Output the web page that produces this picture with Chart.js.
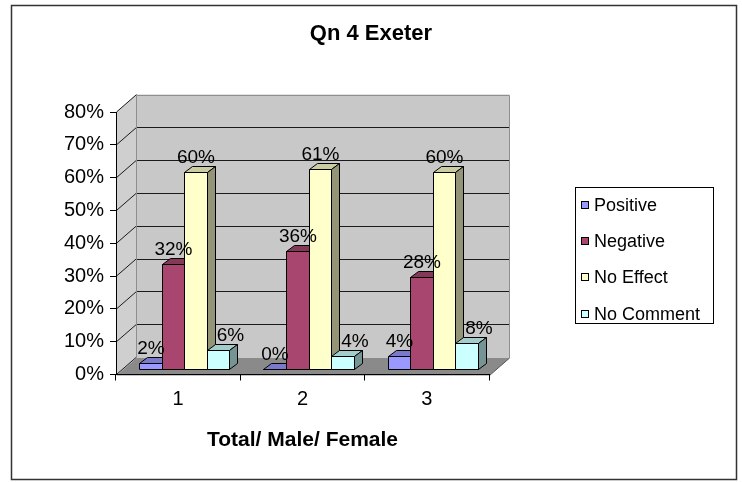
<!DOCTYPE html>
<html>
<head>
<meta charset="utf-8">
<title>Qn 4 Exeter</title>
<script src="https://cdn.jsdelivr.net/npm/chart.js@4/dist/chart.umd.min.js"></script>
<style>
  html, body { margin: 0; padding: 0; background: #ffffff; }
  #wrap { width: 742px; height: 482px; }
  canvas { display: block; }
</style>
</head>
<body>
<div id="wrap"><canvas id="chart" width="742" height="482"></canvas></div>
<script>
// ---- data ----
const categories = ['1', '2', '3'];
const positive  = [2, 0, 4];
const negative  = [32, 36, 28];
const noEffect  = [60, 61, 60];
const noComment = [6, 4, 8];
const yTickValues = [0, 10, 20, 30, 40, 50, 60, 70, 80];
const seriesNames = ['Positive', 'Negative', 'No Effect', 'No Comment'];
const chartTitle = 'Qn 4 Exeter';
const xAxisTitle = 'Total/ Male/ Female';

// ---- look ----
const FONT = '"Liberation Sans", Arial, Helvetica, sans-serif';
const seriesColors = ['#9999FF', '#A8466F', '#FFFFCC', '#CCFFFF'];
const FLOOR_DEPTH = { dx: 20, dy: -17.4 };   // front plane -> back wall
const BAR_SHIFT   = { dx: 6,  dy: -5.2 };    // front plane -> bar front face
const BAR_DEPTH   = { dx: 8,  dy: -6 };      // bar front face -> bar back face
const LABEL_SHIFT = [0, 0, 0, 12];           // horizontal nudge of value labels per series

function shade(hex, f) {
  const n = parseInt(hex.slice(1), 16);
  const r = Math.round(((n >> 16) & 255) * f);
  const g = Math.round(((n >> 8) & 255) * f);
  const b = Math.round((n & 255) * f);
  return `rgb(${r},${g},${b})`;
}
const px = v => Math.round(v) + 0.5;

function poly(ctx, pts, fill, stroke) {
  ctx.beginPath();
  ctx.moveTo(pts[0][0], pts[0][1]);
  for (let k = 1; k < pts.length; k++) ctx.lineTo(pts[k][0], pts[k][1]);
  ctx.closePath();
  if (fill) { ctx.fillStyle = fill; ctx.fill(); }
  if (stroke) { ctx.strokeStyle = stroke; ctx.stroke(); }
}

// walls, floor, gridlines, outer frame
const room3d = {
  id: 'room3d',
  beforeDraw(chart) {
    const ctx = chart.ctx;
    const { left, right } = chart.chartArea;
    const ys = chart.scales.y;
    const yTop = ys.getPixelForValue(80), yBot = ys.getPixelForValue(0);
    const dx = FLOOR_DEPTH.dx, dy = FLOOR_DEPTH.dy;
    ctx.save();
    ctx.fillStyle = '#ffffff';
    ctx.fillRect(0, 0, chart.width, chart.height);
    ctx.lineWidth = 1;

    // outer frame
    ctx.strokeStyle = '#333333';
    ctx.lineWidth = 1.5;
    ctx.strokeRect(11.5, 5.5, 725, 474);
    ctx.lineWidth = 1;

    const L = px(left), R = px(right), T = yTop, B = px(yBot);
    // side wall
    poly(ctx, [[L, T], [L + dx, T + dy], [L + dx, B + dy], [L, B]], '#CFCFCF', null);
    // back wall
    poly(ctx, [[L + dx, T + dy], [R + dx, T + dy], [R + dx, B + dy], [L + dx, B + dy]], '#C8C8C8', null);
    // floor
    poly(ctx, [[L, B], [R, B], [R + dx, B + dy], [L + dx, B + dy]], '#8A8A8A', null);

    // gridlines on back wall and side wall
    ctx.strokeStyle = '#1a1a1a';
    yTickValues.forEach(v => {
      const y = ys.getPixelForValue(v);
      const yb = px(y + dy);
      if (v > 0 && v < 80) {
        ctx.beginPath();
        ctx.moveTo(L + dx, yb);
        ctx.lineTo(R + dx, yb);
        ctx.stroke();
      }
      ctx.beginPath();
      ctx.moveTo(L, y);
      ctx.lineTo(L + dx, y + dy);
      ctx.stroke();
    });

    // wall edges
    ctx.strokeStyle = '#8E8E8E';
    ctx.beginPath();
    ctx.moveTo(L + dx, B + dy); ctx.lineTo(L + dx, px(T + dy)); ctx.lineTo(R + dx, px(T + dy)); ctx.lineTo(R + dx, B + dy);
    ctx.stroke();
    ctx.strokeStyle = '#555555';
    ctx.beginPath();
    ctx.moveTo(R, B); ctx.lineTo(R + dx, B + dy);
    ctx.stroke();
    ctx.restore();
  },

  // 3D columns with value labels
  beforeDatasetsDraw(chart) {
    const ctx = chart.ctx;
    ctx.save();
    ctx.lineWidth = 1;
    ctx.lineJoin = 'miter';
    const labels = [];
    chart.data.datasets.forEach((ds, i) => {
      const meta = chart.getDatasetMeta(i);
      const c = ds.backgroundColor;
      meta.data.forEach((el, j) => {
        const { x, y, base, width } = el.getProps(['x', 'y', 'base', 'width'], true);
        const x0 = px(x - width / 2 + BAR_SHIFT.dx), x1 = px(x + width / 2 + BAR_SHIFT.dx);
        const yt = px(y + BAR_SHIFT.dy), yb = px(base + BAR_SHIFT.dy);
        const bx = BAR_DEPTH.dx, by = BAR_DEPTH.dy;
        // front
        poly(ctx, [[x0, yt], [x1, yt], [x1, yb], [x0, yb]], c, '#000');
        // top
        poly(ctx, [[x0, yt], [x1, yt], [x1 + bx, yt + by], [x0 + bx, yt + by]], shade(c, 0.8), '#000');
        // side
        poly(ctx, [[x1, yt], [x1 + bx, yt + by], [x1 + bx, yb + by], [x1, yb]], shade(c, 0.58), '#000');
        labels.push({ text: ds.data[j] + '%', x: (x0 + x1) / 2 + LABEL_SHIFT[i], y: yt - 9.5 });
      });
    });
    ctx.fillStyle = '#000';
    ctx.font = '19px ' + FONT;
    ctx.textAlign = 'center';
    ctx.textBaseline = 'alphabetic';
    labels.forEach(l => ctx.fillText(l.text, l.x, l.y));
    ctx.restore();
    return false;
  },

  // boxed legend on the right
  afterDraw(chart) {
    const ctx = chart.ctx;
    ctx.save();
    ctx.fillStyle = '#fff';
    ctx.fillRect(575.5, 187.5, 138, 136);
    ctx.strokeStyle = '#000';
    ctx.lineWidth = 1;
    ctx.strokeRect(575.5, 187.5, 138, 136);
    ctx.font = '18px ' + FONT;
    ctx.textAlign = 'left';
    ctx.textBaseline = 'middle';
    chart.data.datasets.forEach((ds, i) => {
      const cy = 205 + i * 36.2;
      ctx.fillStyle = ds.backgroundColor;
      ctx.fillRect(581.5, Math.round(cy) - 3.5, 7, 7);
      ctx.strokeStyle = '#000';
      ctx.strokeRect(581.5, Math.round(cy) - 3.5, 7, 7);
      ctx.fillStyle = '#000';
      ctx.fillText(ds.label, 594, cy + 1);
    });
    ctx.restore();
  }
};

const seriesData = [positive, negative, noEffect, noComment];

new Chart(document.getElementById('chart'), {
  type: 'bar',
  data: {
    labels: categories,
    datasets: seriesNames.map((name, i) => ({
      label: name,
      data: seriesData[i],
      backgroundColor: seriesColors[i],
      borderColor: '#000',
      borderWidth: 1,
      categoryPercentage: 0.724,
      barPercentage: 1.0
    }))
  },
  options: {
    responsive: false,
    animation: false,
    devicePixelRatio: 1,
    layout: { padding: 0 },
    plugins: {
      legend: { display: false },
      tooltip: { enabled: false },
      title: {
        display: true,
        text: chartTitle,
        color: '#000',
        font: { family: FONT, size: 22, weight: 'bold' },
        padding: { top: 20.6, bottom: 65 }
      }
    },
    scales: {
      x: {
        type: 'category',
        offset: true,
        grid: { display: true, drawOnChartArea: false, drawTicks: true, tickLength: 6, color: '#000', offset: true },
        border: { display: true, color: '#000', width: 1 },
        ticks: { color: '#000', font: { family: FONT, size: 20 }, padding: 7 },
        title: {
          display: true,
          text: xAxisTitle,
          color: '#000',
          font: { family: FONT, size: 21, weight: 'bold' },
          padding: { top: 0, bottom: 29.4 }
        },
        afterFit(s) { s.height = 107.5; }
      },
      y: {
        type: 'linear',
        min: 0,
        max: 80,
        grid: { display: true, drawOnChartArea: false, drawTicks: true, tickLength: 6, color: '#000' },
        border: { display: true, color: '#000', width: 1 },
        ticks: { color: '#000', font: { family: FONT, size: 20 }, padding: 6, callback: v => v + '%' },
        afterBuildTicks(s) { s.ticks = yTickValues.map(v => ({ value: v })); },
        afterFit(s) { s.width = 116; }
      },
      side: {
        type: 'linear',
        position: 'right',
        display: true,
        grid: { display: false },
        border: { display: false },
        ticks: { display: false },
        afterFit(s) { s.width = 253; }
      }
    }
  },
  plugins: [room3d]
});
</script>
</body>
</html>
